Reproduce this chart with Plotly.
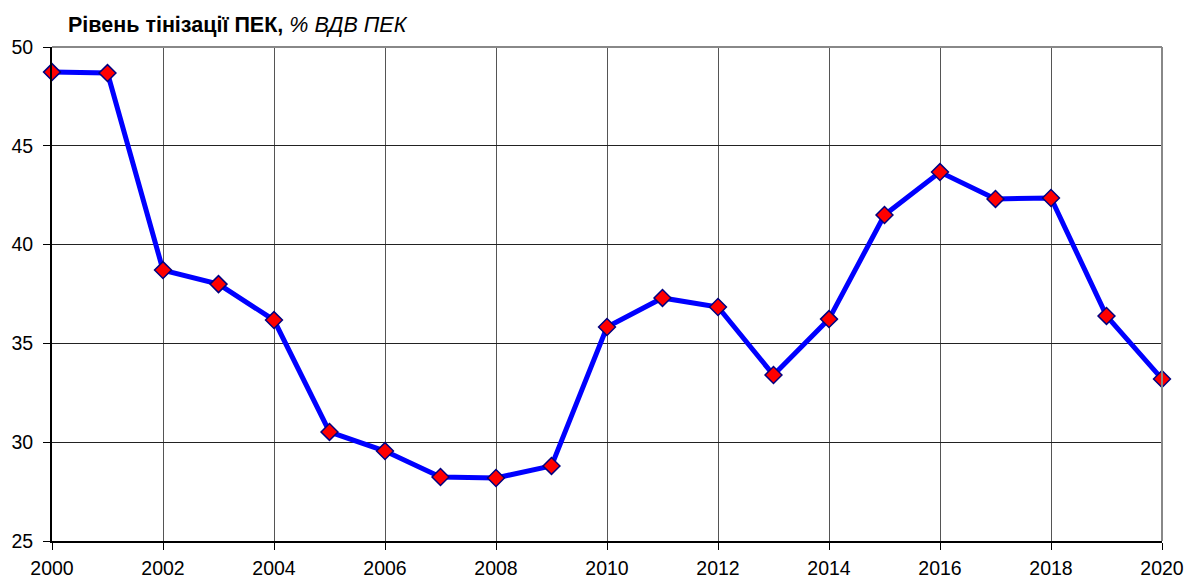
import plotly.graph_objects as go

years = list(range(2000, 2021))
values = [48.73, 48.68, 38.71, 38.0, 36.18, 30.52, 29.55, 28.24, 28.19, 28.80,
          35.83, 37.30, 36.84, 33.40, 36.23, 41.50, 43.67, 42.31, 42.36, 36.39, 33.20]
x_ticks = list(range(2000, 2021, 2))
y_ticks = [25, 30, 35, 40, 45, 50]
title_bold = "Рівень тінізації ПЕК,"
title_italic = "% ВДВ ПЕК"

fig = go.Figure()
fig.add_trace(go.Scatter(
    x=years, y=values, mode="lines+markers",
    line=dict(color="#0000FF", width=5),
    marker=dict(symbol="diamond", size=13, color="#FF0000",
                line=dict(color="#000080", width=1.5)),
    cliponaxis=False, showlegend=False,
))

fig.update_layout(
    width=1188, height=581,
    margin=dict(l=52, r=26, t=47, b=40),
    paper_bgcolor="white", plot_bgcolor="white",
    font=dict(family="Liberation Sans, Arial, sans-serif", size=19.5, color="black"),
    annotations=[dict(
        text=f"<b>{title_bold}</b> <i>{title_italic}</i>",
        xref="paper", yref="paper", x=0, y=1.0, yanchor="middle", xanchor="left",
        xshift=14, yshift=22, showarrow=False, font=dict(size=21.5, color="black"),
    )],
)
fig.update_xaxes(
    range=[2000, 2020], tickvals=x_ticks, ticktext=[str(v) for v in x_ticks],
    showgrid=True, gridcolor="#555555", gridwidth=1,
    showline=True, linecolor="black", linewidth=2, mirror=False,
    ticks="outside", ticklen=7, tickcolor="black", zeroline=False,
    automargin=False, ticklabeloverflow="allow", ticklabelstandoff=2,
)
fig.update_yaxes(
    range=[25, 50], tickvals=y_ticks,
    showgrid=True, gridcolor="#222222", gridwidth=1,
    showline=True, linecolor="black", linewidth=2,
    ticks="outside", ticklen=7, tickcolor="black", zeroline=False,
    automargin=False, ticklabeloverflow="allow", ticklabelstandoff=6,
)
# grey top/right frame
fig.add_shape(type="line", xref="paper", yref="paper", x0=0, x1=1, y0=1, y1=1,
              line=dict(color="#888888", width=2))
fig.add_shape(type="line", xref="paper", yref="paper", x0=1, x1=1, y0=0, y1=1,
              line=dict(color="#888888", width=2))

fig.write_html(
    "out.html",
    config={"displayModeBar": False},
    post_script="document.body.style.margin='0';document.documentElement.style.overflow='hidden';",
)
